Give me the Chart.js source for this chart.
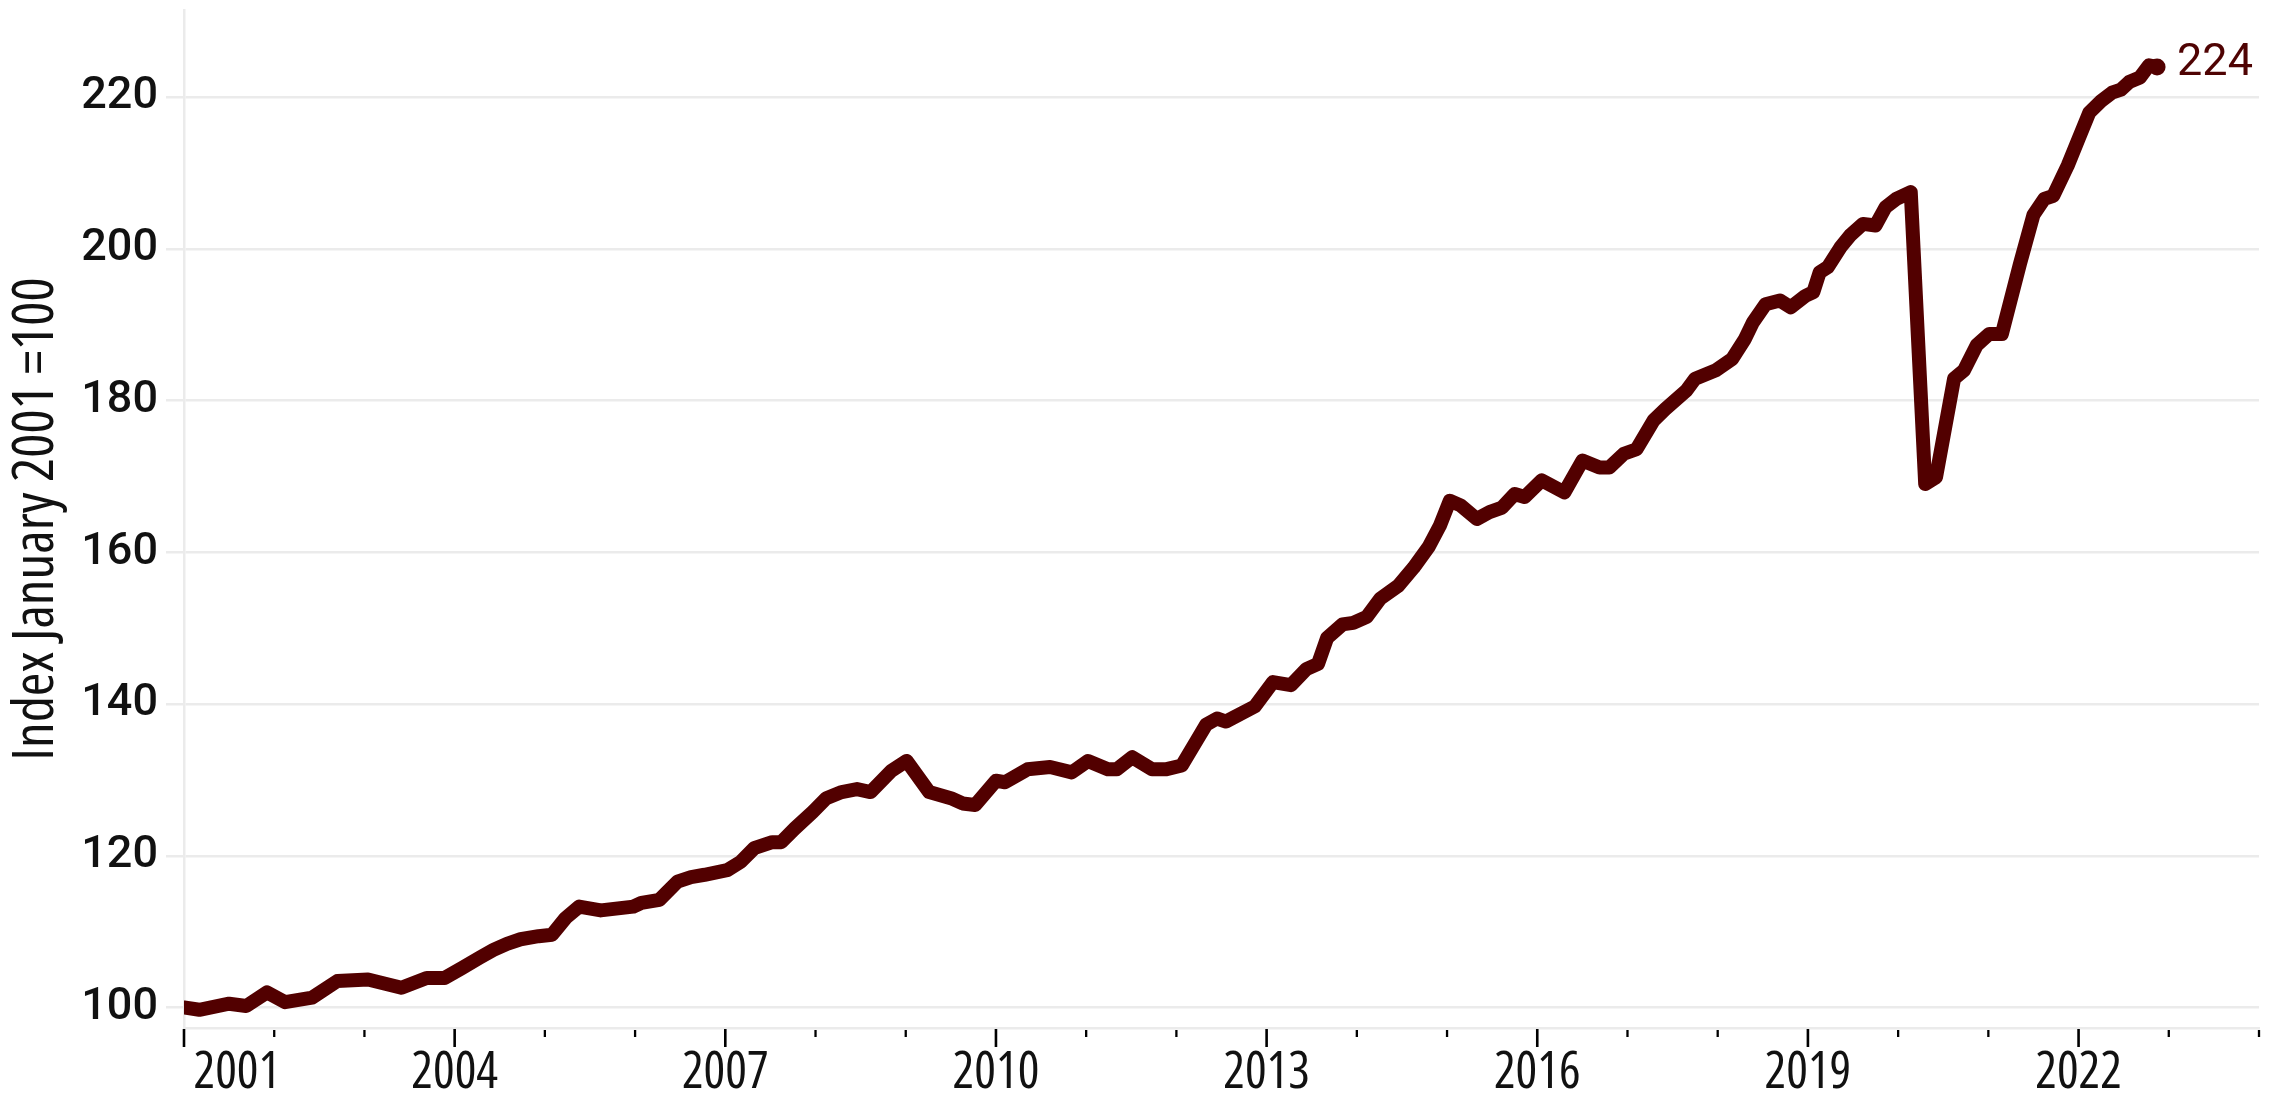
<!DOCTYPE html>
<html>
<head>
<meta charset="utf-8">
<title>Index January 2001 =100</title>
<script src="https://cdn.jsdelivr.net/npm/chart.js@4.4.1/dist/chart.umd.min.js"></script>
<style>
    html, body { margin: 0; padding: 0; background: #fff; }
    #wrap { width: 2277px; height: 1099px; position: relative; }
</style>
</head>
<body>
<div id="wrap"><canvas id="indexChart"></canvas></div>
<script>
// Dates are decimal years, values are the index (Jan 2001 = 100)
const dates = [
    2001.00, 2001.17, 2001.50, 2001.69, 2001.92, 2002.12, 2002.42, 2002.70, 2003.04, 2003.41,
    2003.69, 2003.89, 2004.08, 2004.28, 2004.43, 2004.58, 2004.73, 2004.93, 2005.08, 2005.23,
    2005.38, 2005.62, 2005.98, 2006.07, 2006.27, 2006.47, 2006.62, 2006.77, 2007.02, 2007.17,
    2007.32, 2007.52, 2007.62, 2007.77, 2007.97, 2008.12, 2008.29, 2008.46, 2008.61, 2008.84,
    2009.01, 2009.26, 2009.50, 2009.63, 2009.77, 2010.00, 2010.10, 2010.35, 2010.60, 2010.84,
    2011.02, 2011.24, 2011.34, 2011.51, 2011.73, 2011.88, 2012.06, 2012.23, 2012.33, 2012.45,
    2012.55, 2012.87, 2013.07, 2013.27, 2013.44, 2013.57, 2013.67, 2013.84, 2013.96, 2014.11,
    2014.26, 2014.46, 2014.63, 2014.80, 2014.92, 2015.03, 2015.15, 2015.33, 2015.47, 2015.61,
    2015.75, 2015.86, 2016.05, 2016.30, 2016.50, 2016.69, 2016.80, 2016.96, 2017.10, 2017.29,
    2017.42, 2017.65, 2017.75, 2017.98, 2018.16, 2018.30, 2018.39, 2018.53, 2018.69, 2018.81,
    2018.97, 2019.06, 2019.13, 2019.22, 2019.36, 2019.47, 2019.61, 2019.75, 2019.86, 2019.98,
    2020.14, 2020.30, 2020.42, 2020.62, 2020.73, 2020.87, 2021.01, 2021.15, 2021.35, 2021.50,
    2021.62, 2021.72, 2021.88, 2022.00, 2022.12, 2022.25, 2022.37, 2022.47, 2022.56, 2022.68,
    2022.78, 2022.87
];
const values = [
    100.0, 99.7, 100.5, 100.2, 102.0, 100.7, 101.3, 103.5, 103.7, 102.6,
    103.9, 103.9, 105.2, 106.6, 107.6, 108.4, 109.0, 109.4, 109.6, 111.8,
    113.3, 112.8, 113.3, 113.8, 114.2, 116.6, 117.2, 117.5, 118.1, 119.2,
    121.0, 121.8, 121.8, 123.6, 125.8, 127.6, 128.4, 128.8, 128.4, 131.2,
    132.5, 128.4, 127.6, 126.9, 126.7, 129.9, 129.7, 131.4, 131.7, 131.0,
    132.5, 131.4, 131.4, 133.0, 131.4, 131.4, 131.9, 135.3, 137.3, 138.1,
    137.7, 139.7, 142.9, 142.5, 144.6, 145.3, 148.7, 150.5, 150.7, 151.5,
    153.9, 155.6, 158.0, 160.8, 163.5, 166.8, 166.2, 164.4, 165.3, 165.9,
    167.7, 167.3, 169.5, 167.9, 172.1, 171.2, 171.2, 173.0, 173.6, 177.4,
    178.9, 181.3, 182.9, 184.0, 185.5, 188.1, 190.3, 192.7, 193.2, 192.3,
    193.8, 194.3, 196.9, 197.6, 200.2, 201.8, 203.3, 203.1, 205.5, 206.6,
    207.5, 169.0, 169.9, 182.9, 184.0, 187.3, 188.8, 188.8, 198.0, 204.5,
    206.6, 207.0, 211.0, 214.5, 218.0, 219.5, 220.6, 221.0, 222.0, 222.6,
    224.2, 224.0
];
const yTicks = [100, 120, 140, 160, 180, 200, 220];
const yearTicks = [2001, 2002, 2003, 2004, 2005, 2006, 2007, 2008, 2009, 2010, 2011, 2012,
    2013, 2014, 2015, 2016, 2017, 2018, 2019, 2020, 2021, 2022, 2023, 2024];
const labelYears = [2001, 2004, 2007, 2010, 2013, 2016, 2019, 2022];
const endLabel = '224';
const axisTitle = 'Index January 2001 =100';

const LINE_COLOR = '#520000';
const GRID_COLOR = '#ebebeb';

// short ticks every year, long ones where a label sits
const yearTickMarks = {
    id: 'yearTickMarks',
    afterDraw(chart) {
        const ctx = chart.ctx;
        const x = chart.scales.x;
        const base = chart.chartArea.bottom;
        ctx.save();
        ctx.strokeStyle = '#000';
        yearTicks.forEach(year => {
            const px = x.getPixelForValue(year);
            const major = labelYears.includes(year);
            ctx.lineWidth = major ? 2.6 : 2.3;
            ctx.beginPath();
            ctx.moveTo(px, base + (major ? 1 : 2));
            ctx.lineTo(px, base + (major ? 19 : 9));
            ctx.stroke();
        });
        ctx.restore();
    }
};

// value written next to the last point
const lastValueLabel = {
    id: 'lastValueLabel',
    afterDatasetsDraw(chart) {
        const meta = chart.getDatasetMeta(0);
        const last = meta.data[meta.data.length - 1];
        const ctx = chart.ctx;
        ctx.save();
        ctx.fillStyle = '#4f0303';
        ctx.font = '45px Roboto, sans-serif';
        ctx.textAlign = 'left';
        ctx.textBaseline = 'middle';
        ctx.fillText(endLabel, last.x + 20, last.y - 3);
        ctx.restore();
    }
};

const ctx = document.getElementById('indexChart').getContext('2d');
const chart = new Chart(ctx, {
    type: 'line',
    data: {
        datasets: [{
            data: dates.map((d, i) => ({ x: d, y: values[i] })),
            borderColor: LINE_COLOR,
            backgroundColor: LINE_COLOR,
            borderWidth: 14,
            borderCapStyle: 'round',
            borderJoinStyle: 'round',
            tension: 0,
            pointRadius: c => c.dataIndex === values.length - 1 ? 8.5 : 0,
            pointHoverRadius: 0,
            pointBorderWidth: 0
        }]
    },
    options: {
        responsive: true,
        maintainAspectRatio: false,
        animation: false,
        layout: { padding: { top: 10, right: 18, bottom: 0, left: 0 } },
        plugins: {
            legend: { display: false },
            tooltip: { enabled: false }
        },
        scales: {
            x: {
                type: 'linear',
                min: 2001,
                max: 2024,
                afterBuildTicks: s => { s.ticks = yearTicks.map(v => ({ value: v })); },
                afterFit: s => {
                    s.height = 71;
                    s.paddingLeft = 0;
                    s.paddingRight = 0;
                },
                grid: {
                    drawOnChartArea: false,
                    drawTicks: true,
                    tickLength: 10,
                    tickColor: 'rgba(0,0,0,0)'
                },
                border: { display: true, color: GRID_COLOR, width: 2.5 },
                ticks: {
                    autoSkip: false,
                    maxRotation: 0,
                    align: 'inner',
                    padding: 5,
                    color: '#111',
                    font: { family: "'Open Sans', sans-serif", weight: '500 condensed', size: 51 },
                    callback: v => labelYears.includes(v) ? (v === 2001 ? ' ' + v : String(v)) : ''
                }
            },
            y: {
                min: 97.3,
                max: 231.5,
                afterBuildTicks: s => { s.ticks = yTicks.map(v => ({ value: v })); },
                afterFit: s => {
                    s.width = 184;
                    s.paddingTop = 0;
                    s.paddingBottom = 0;
                },
                grid: {
                    color: GRID_COLOR,
                    lineWidth: 2.5,
                    tickLength: 18,
                    tickColor: GRID_COLOR
                },
                border: { display: true, color: GRID_COLOR, width: 2.5 },
                ticks: {
                    padding: 8,
                    color: '#111',
                    font: { family: 'Roboto, sans-serif', weight: '500', size: 45 }
                },
                title: {
                    display: true,
                    text: axisTitle,
                    color: '#111',
                    padding: { top: 3, bottom: 0 },
                    font: { family: "'Open Sans', sans-serif", weight: 'condensed', size: 57 }
                }
            }
        }
    },
    plugins: [yearTickMarks, lastValueLabel]
});
</script>
</body>
</html>
